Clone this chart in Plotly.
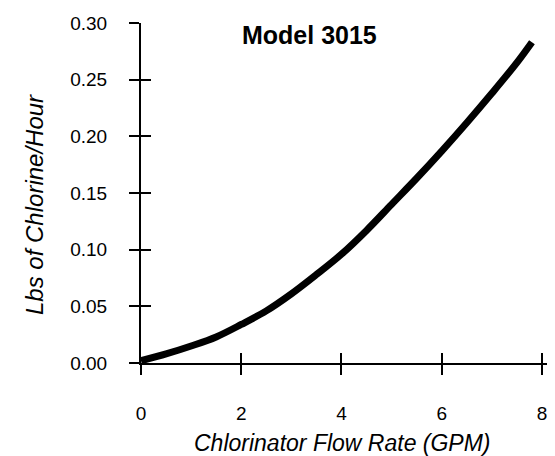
import plotly.graph_objects as go

flow_gpm = [0, 0.5, 1.0, 1.5, 2.0, 2.5, 3.0, 3.5, 4.0, 4.5, 5.0, 5.5, 6.0, 6.5, 7.0, 7.5, 7.8]
lbs_per_hour = [0.002, 0.008, 0.015, 0.023, 0.034, 0.046, 0.061, 0.078, 0.096, 0.117,
                0.140, 0.163, 0.187, 0.212, 0.238, 0.265, 0.283]
x_ticks = [0, 2, 4, 6, 8]
y_ticks = [0.00, 0.05, 0.10, 0.15, 0.20, 0.25, 0.30]
y_tick_labels = ["0.00", "0.05", "0.10", "0.15", "0.20", "0.25", "0.30"]

FONT = "Liberation Sans, Arial, sans-serif"
X_RANGE = [0, 8.22]
Y_RANGE = [0, 0.30]

fig = go.Figure()
fig.add_trace(go.Scatter(x=flow_gpm, y=lbs_per_hour, mode="lines",
                         line=dict(color="black", width=7, shape="spline", smoothing=1.0),
                         hoverinfo="skip", showlegend=False))
# transparent copy so the overlay axes (inward ticks) are drawn
fig.add_trace(go.Scatter(x=flow_gpm, y=lbs_per_hour, mode="lines",
                         line=dict(color="rgba(0,0,0,0)", width=1),
                         xaxis="x2", yaxis="y2", hoverinfo="skip", showlegend=False))

common = dict(showgrid=False, zeroline=False, showline=True, linecolor="black",
              linewidth=2, tickcolor="black", tickwidth=2, ticklen=10, automargin=False)

fig.update_layout(
    width=555, height=456,
    margin=dict(l=133, r=10, t=15, b=101),
    paper_bgcolor="white", plot_bgcolor="white",
    font=dict(family=FONT, color="black"),
    xaxis=dict(range=X_RANGE, tickvals=x_ticks, ticks="outside",
               tickfont=dict(size=19), ticklabelstandoff=22, **common),
    yaxis=dict(range=Y_RANGE, tickvals=y_ticks, ticktext=y_tick_labels, ticks="outside",
               tickfont=dict(size=19), ticklabelstandoff=18, **common),
    xaxis2=dict(range=X_RANGE, tickvals=x_ticks, ticks="inside", overlaying="x",
                anchor="y", side="bottom", showticklabels=False, **common),
    yaxis2=dict(range=Y_RANGE, tickvals=y_ticks, ticks="inside", overlaying="y",
                anchor="x", side="left", showticklabels=False, **common),
    annotations=[
        dict(text="<b>Model 3015</b>", xref="paper", yref="paper", x=0.408, y=0.965,
             xanchor="center", yanchor="middle", showarrow=False,
             font=dict(size=25, family=FONT)),
        dict(text="<i>Chlorinator Flow Rate (GPM)</i>", xref="paper", yref="paper",
             x=0.488, y=-0.235, xanchor="center", yanchor="middle", showarrow=False,
             font=dict(size=23, family=FONT)),
        dict(text="<i>Lbs of Chlorine/Hour</i>", xref="paper", yref="paper",
             x=-0.257, y=0.465, xanchor="center", yanchor="middle", showarrow=False,
             textangle=-90, font=dict(size=24, family=FONT)),
    ],
)

fig.write_html("out.html")
